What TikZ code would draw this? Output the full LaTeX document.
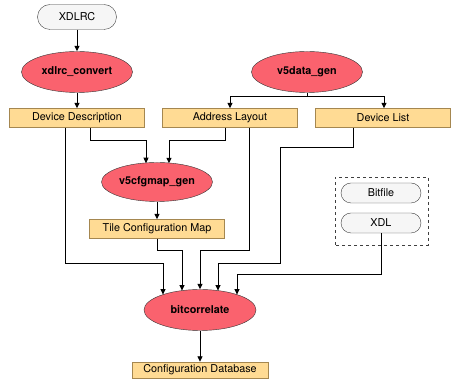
\documentclass[tikz,border=0pt]{standalone}
\usepackage{fontspec}
\setmainfont{TeX Gyre Heros}
\usetikzlibrary{shapes.geometric,arrows.meta}

\definecolor{toolred}{RGB}{250,98,110}
\definecolor{datafill}{RGB}{255,219,148}
\definecolor{dataline}{RGB}{165,135,80}
\definecolor{filefill}{RGB}{246,246,246}

\tikzset{
  tool/.style={ellipse, draw=black!80, fill=toolred, minimum width=111pt,
    minimum height=41pt, inner sep=0pt, font=\fontsize{10.8}{12}\selectfont\bfseries},
  datum/.style={rectangle, draw=dataline, fill=datafill, minimum width=135pt,
    minimum height=19pt, inner sep=0pt, font=\fontsize{10.8}{12}\selectfont},
  infile/.style={rectangle, rounded corners=10pt, draw=black!75, fill=filefill,
    minimum width=80pt, minimum height=20pt, inner sep=0pt,
    font=\fontsize{10.8}{12}\selectfont},
  flow/.style={line width=0.9pt, -{Triangle[length=5.5pt,width=5pt]}},
  wire/.style={line width=0.9pt}
}

\begin{document}
\begin{tikzpicture}[x=1pt,y=1pt]
  \useasboundingbox (0,0) rectangle (451,380);

  % Entrées et outils
  \node[infile, minimum width=79pt, minimum height=25pt, rounded corners=12.5pt] (xdlrc) at (77,363) {XDLRC};
  \node[tool] (convert) at (77,308) {xdlrc\_convert};
  \node[tool] (datagen) at (307,308) {v5data\_gen};

  % Données intermédiaires
  \node[datum] (devdesc) at (77,262) {Device Description};
  \node[datum] (addrlay) at (230,262) {Address Layout};
  \node[datum] (devlist) at (383,262) {Device List};

  \node[tool, minimum height=39pt] (cfgmapgen) at (157,198) {v5cfgmap\_gen};
  \node[datum] (tilemap) at (157,151) {Tile Configuration Map};

  % Fichiers utilisateur dans le cadre pointillé
  \node[infile] (bitfile) at (381,187) {Bitfile};
  \node[infile] (xdl) at (381,157) {XDL};
  \draw[dashed, black!75, line width=0.6pt] (335,135) rectangle (428,203);

  \node[tool, minimum width=112pt] (bitcorr) at (200,70) {bitcorrelate};
  \node[datum, minimum width=136pt, minimum height=16pt] (cfgdb) at (200,10) {Configuration Database};

  % Flèches du haut
  \draw[flow] (xdlrc) -- (convert);
  \draw[flow] (convert) -- (devdesc);
  \draw[wire] (datagen.south) -- ++(0,-4) coordinate (split);
  \draw[flow] (split) -| (addrlay.north);
  \draw[flow] (split) -| ([xshift=1pt]devlist.north);

  % Vers v5cfgmap_gen
  \draw[flow] ([xshift=13pt]devdesc.south) |- (146,240) -- ([xshift=-11pt,yshift=-0.9pt]cfgmapgen.north);
  \draw[flow] ([xshift=-5pt]addrlay.south) |- (169,240) -- ([xshift=12pt,yshift=-1pt]cfgmapgen.north);
  \draw[flow] (cfgmapgen) -- (tilemap);

  % Vers bitcorrelate
  \draw[flow] ([xshift=-12pt]devdesc.south) |- (163,117) -- ([xshift=-37pt,yshift=15.4pt]bitcorr.center);
  \draw[flow] (tilemap.south) |- (182,130) -- ([xshift=-18pt,yshift=19.4pt]bitcorr.center);
  \draw[flow] ([xshift=19pt]addrlay.south) |- (200,130) -- (bitcorr.north);
  \draw[flow] ([xshift=-30pt]devlist.south) |- (280,233) -- (280,117) -- (218,117) -- ([xshift=18pt,yshift=19.4pt]bitcorr.center);
  \draw[flow] (xdl.south) |- (237,106) -- ([xshift=37pt,yshift=15.4pt]bitcorr.center);

  \draw[flow] (bitcorr) -- (cfgdb);
\end{tikzpicture}
\end{document}
